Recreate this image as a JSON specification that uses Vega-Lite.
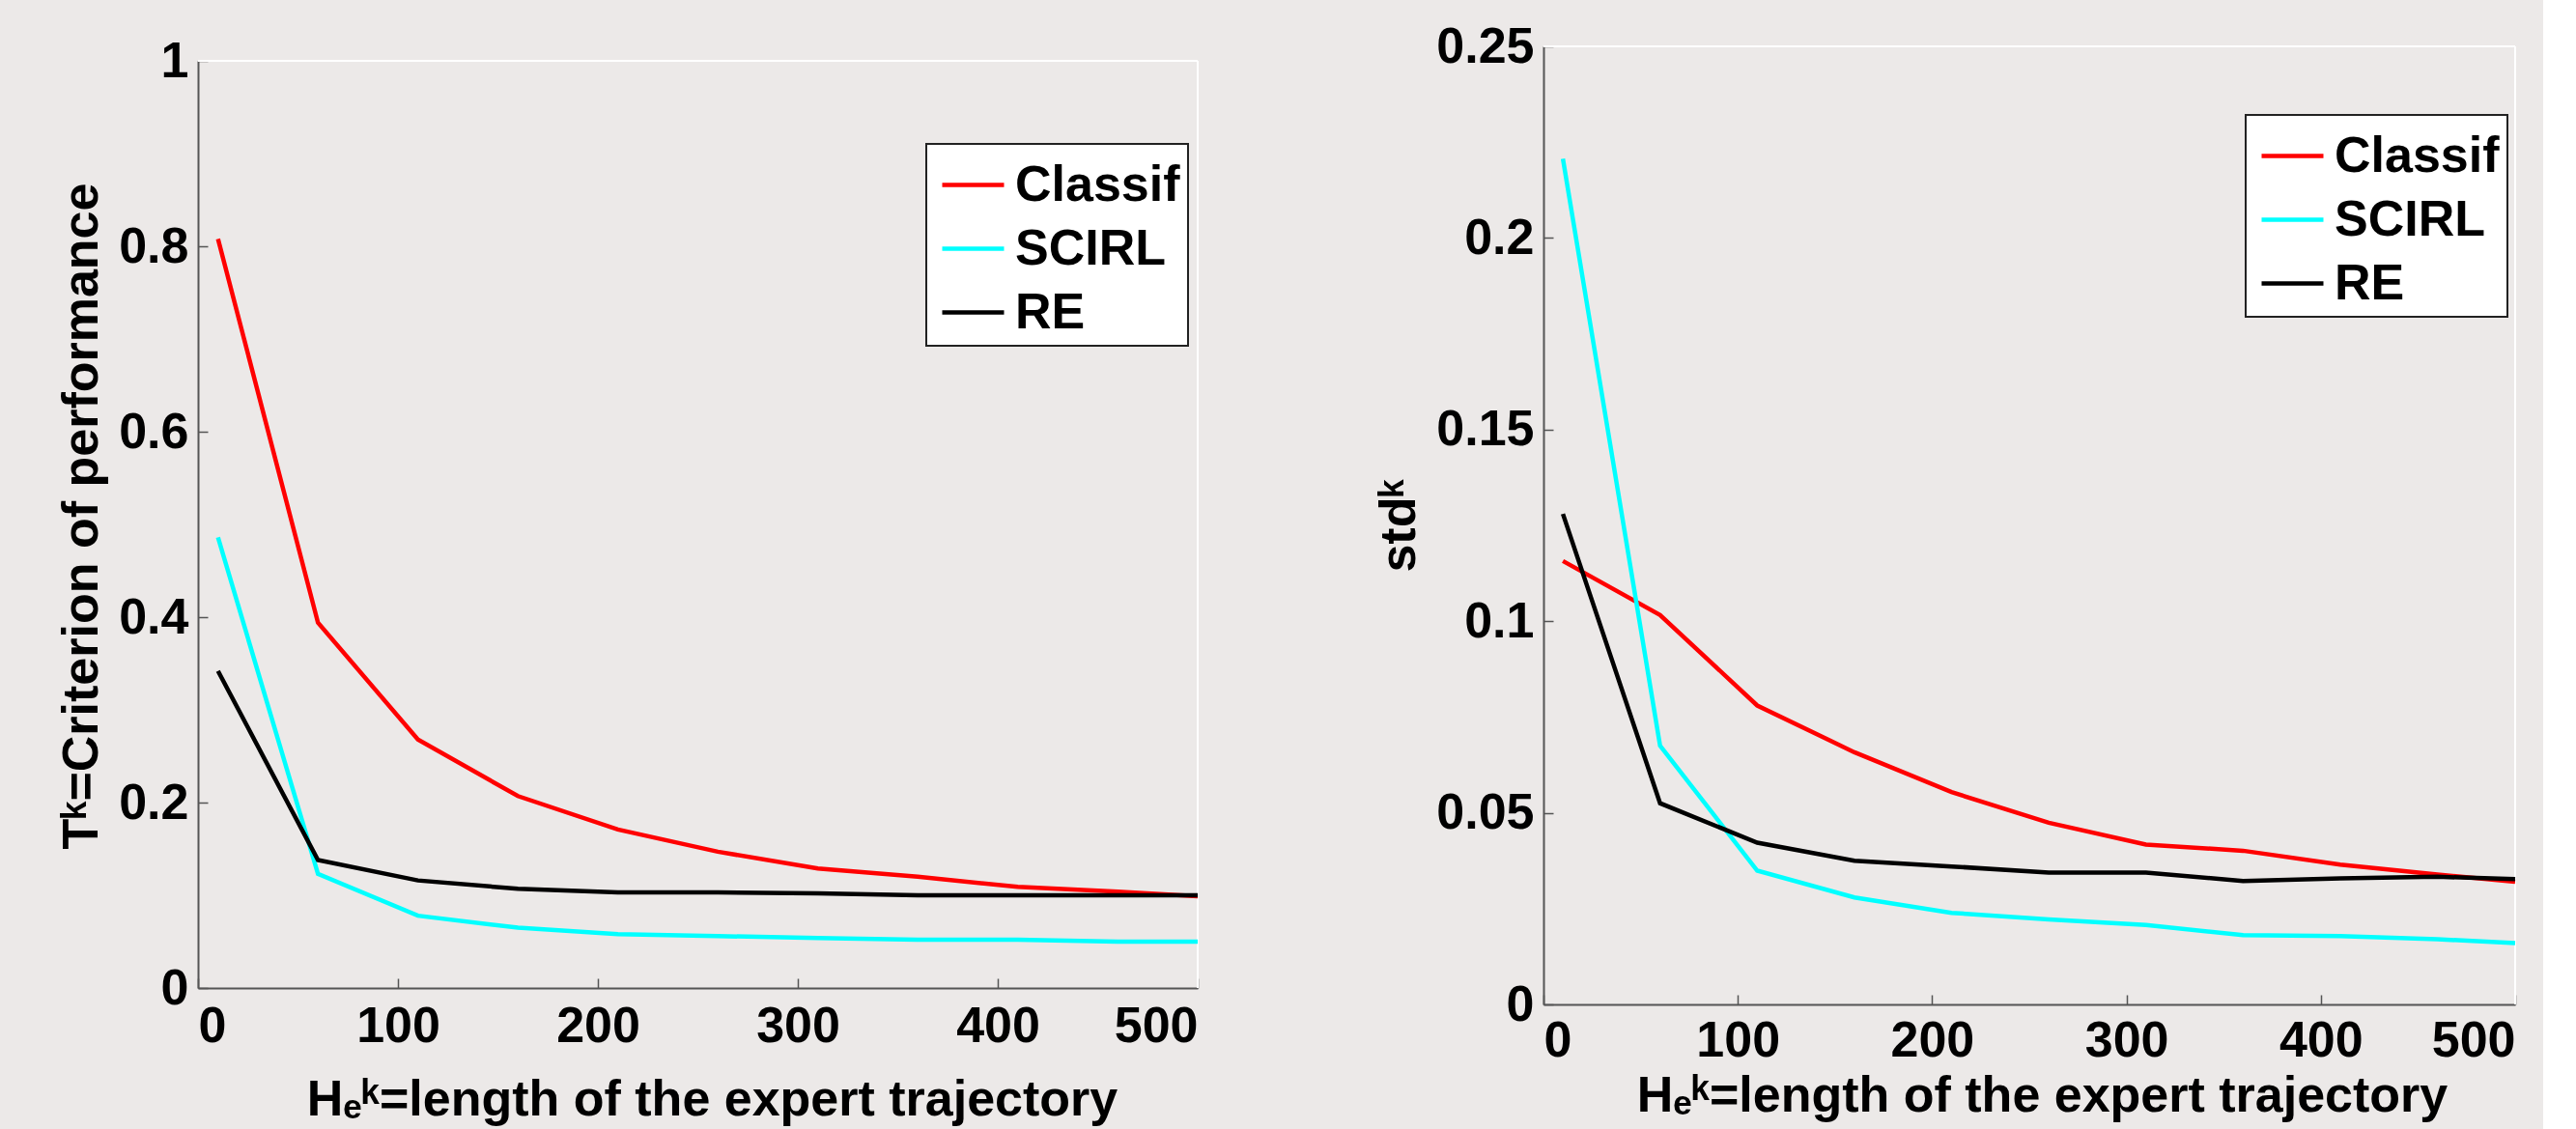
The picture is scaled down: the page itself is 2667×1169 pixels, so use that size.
{
  "$schema": "https://vega.github.io/schema/vega-lite/v6.json",
  "background": "#ECE9E8",
  "padding": {"left": 58, "top": 22, "right": 20, "bottom": 10},
  "spacing": 173,
  "bounds": "full",
  "config": {
    "font": "Liberation Sans",
    "view": {"stroke": null},
    "axis": {
      "labelFont": "Liberation Sans", "labelFontSize": 52, "labelFontWeight": "bold", "labelColor": "#000000",
      "titleFont": "Liberation Sans", "titleFontSize": 52, "titleFontWeight": "bold", "titleColor": "#000000",
      "domainColor": "#555555", "domainWidth": 2, "tickColor": "#555555", "tickWidth": 1.5, "tickSize": -10,
      "grid": false, "labelPadding": 20, "titlePadding": 11
    },
    "legend": {
      "title": null, "symbolType": "stroke", "symbolSize": 4096, "symbolStrokeWidth": 4.5,
      "labelFont": "Liberation Sans", "labelFontSize": 52, "labelFontWeight": "bold", "labelColor": "#000000", "labelLimit": 600,
      "fillColor": "#ffffff", "strokeColor": "#222222", "strokeWidth": 2,
      "padding": 8, "symbolOffset": 6, "labelOffset": 9, "rowPadding": 5
    }
  },
  "data": {"values": [
    {"H": 10, "method": "Classif", "T": 0.808, "std": 0.1157},
    {"H": 60, "method": "Classif", "T": 0.394, "std": 0.1016},
    {"H": 110, "method": "Classif", "T": 0.268, "std": 0.078},
    {"H": 160, "method": "Classif", "T": 0.207, "std": 0.0658},
    {"H": 210, "method": "Classif", "T": 0.171, "std": 0.0554},
    {"H": 260, "method": "Classif", "T": 0.147, "std": 0.0474},
    {"H": 310, "method": "Classif", "T": 0.129, "std": 0.0417},
    {"H": 360, "method": "Classif", "T": 0.120, "std": 0.0401},
    {"H": 410, "method": "Classif", "T": 0.109, "std": 0.0365},
    {"H": 460, "method": "Classif", "T": 0.104, "std": 0.0339},
    {"H": 500, "method": "Classif", "T": 0.099, "std": 0.032},
    {"H": 10, "method": "SCIRL", "T": 0.486, "std": 0.2207},
    {"H": 60, "method": "SCIRL", "T": 0.123, "std": 0.0675},
    {"H": 110, "method": "SCIRL", "T": 0.078, "std": 0.0349},
    {"H": 160, "method": "SCIRL", "T": 0.065, "std": 0.0279},
    {"H": 210, "method": "SCIRL", "T": 0.058, "std": 0.0239},
    {"H": 260, "method": "SCIRL", "T": 0.056, "std": 0.0222},
    {"H": 310, "method": "SCIRL", "T": 0.054, "std": 0.0207},
    {"H": 360, "method": "SCIRL", "T": 0.052, "std": 0.0181},
    {"H": 410, "method": "SCIRL", "T": 0.052, "std": 0.0178},
    {"H": 460, "method": "SCIRL", "T": 0.050, "std": 0.0170},
    {"H": 500, "method": "SCIRL", "T": 0.050, "std": 0.0160},
    {"H": 10, "method": "RE", "T": 0.342, "std": 0.128},
    {"H": 60, "method": "RE", "T": 0.138, "std": 0.0525},
    {"H": 110, "method": "RE", "T": 0.116, "std": 0.0422},
    {"H": 160, "method": "RE", "T": 0.107, "std": 0.0375},
    {"H": 210, "method": "RE", "T": 0.103, "std": 0.036},
    {"H": 260, "method": "RE", "T": 0.103, "std": 0.0344},
    {"H": 310, "method": "RE", "T": 0.102, "std": 0.0344},
    {"H": 360, "method": "RE", "T": 0.100, "std": 0.0322},
    {"H": 410, "method": "RE", "T": 0.100, "std": 0.0329},
    {"H": 460, "method": "RE", "T": 0.100, "std": 0.0333},
    {"H": 500, "method": "RE", "T": 0.100, "std": 0.0327}
  ]},
  "resolve": {"scale": {"color": "independent"}, "legend": {"color": "independent"}},
  "hconcat": [
    {
      "width": 1035, "height": 975,
      "layer": [
        {"mark": {"type": "rule", "color": "#ffffff", "strokeWidth": 2},
         "encoding": {"x": {"datum": 0, "type": "quantitative"}, "x2": {"datum": 500}, "y": {"datum": 1, "type": "quantitative"}}},
        {"mark": {"type": "rule", "color": "#ffffff", "strokeWidth": 2},
         "encoding": {"x": {"datum": 500, "type": "quantitative"}, "y": {"datum": 0, "type": "quantitative"}, "y2": {"datum": 1}}},
        {
          "mark": {"type": "line", "strokeWidth": 4.5},
          "encoding": {
            "x": {"field": "H", "type": "quantitative", "scale": {"domain": [0, 500], "nice": false},
                  "axis": {"values": [0, 100, 200, 300, 400, 500], "format": "d", "title": "Hₑᵏ=length of the expert trajectory", "labelPadding": 24, "titlePadding": 25, "titleX": 532}},
            "y": {"field": "T", "type": "quantitative", "scale": {"domain": [0, 1], "nice": false, "range": [975, 15]},
                  "axis": {"values": [0, 0.2, 0.4, 0.6, 0.8, 1], "format": "~g", "title": "Tᵏ=Criterion of performance", "titleY": 486}},
            "color": {"field": "method", "type": "nominal",
                      "scale": {"domain": ["Classif", "SCIRL", "RE"], "range": ["#ff0000", "#00ffff", "#000000"]},
                      "legend": {"orient": "none", "legendX": 754, "legendY": 101}}
          }
        }
      ]
    },
    {
      "width": 1006, "height": 992,
      "layer": [
        {"mark": {"type": "rule", "color": "#ffffff", "strokeWidth": 2},
         "encoding": {"x": {"datum": 0, "type": "quantitative"}, "x2": {"datum": 500}, "y": {"datum": 0.25, "type": "quantitative"}}},
        {"mark": {"type": "rule", "color": "#ffffff", "strokeWidth": 2},
         "encoding": {"x": {"datum": 500, "type": "quantitative"}, "y": {"datum": 0, "type": "quantitative"}, "y2": {"datum": 0.25}}},
        {
          "mark": {"type": "line", "strokeWidth": 4.5},
          "encoding": {
            "x": {"field": "H", "type": "quantitative", "scale": {"domain": [0, 500], "nice": false},
                  "axis": {"values": [0, 100, 200, 300, 400, 500], "format": "d", "title": "Hₑᵏ=length of the expert trajectory", "labelPadding": 22, "titlePadding": 6, "titleX": 516}},
            "y": {"field": "std", "type": "quantitative", "scale": {"domain": [0, 0.25], "nice": false},
                  "axis": {"values": [0, 0.05, 0.1, 0.15, 0.2, 0.25], "format": "~g", "title": "stdᵏ"}},
            "color": {"field": "method", "type": "nominal",
                      "scale": {"domain": ["Classif", "SCIRL", "RE"], "range": ["#ff0000", "#00ffff", "#000000"]},
                      "legend": {"orient": "none", "legendX": 727, "legendY": 71}}
          }
        }
      ]
    }
  ]
}
